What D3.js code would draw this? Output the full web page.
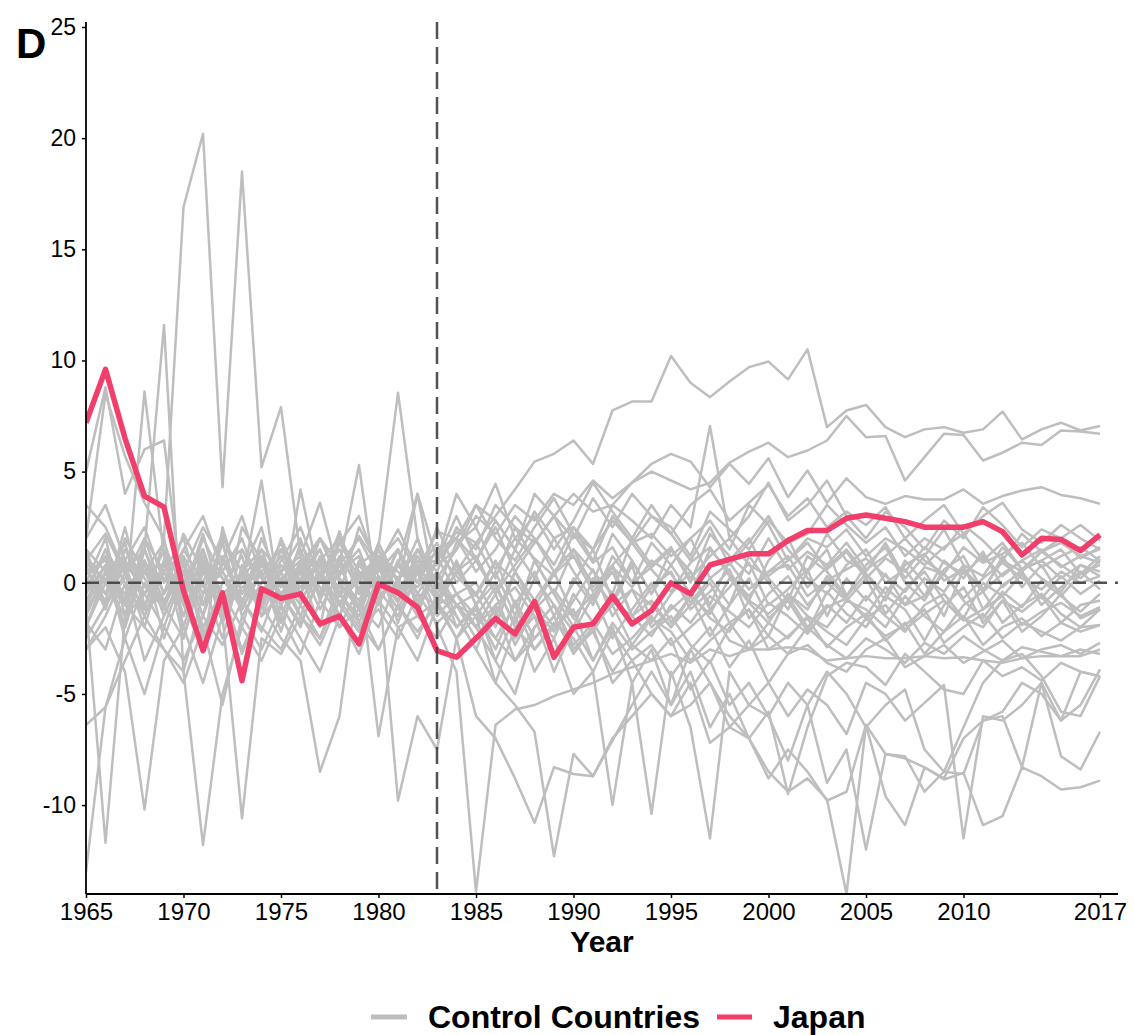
<!DOCTYPE html>
<html><head><meta charset="utf-8">
<script src="https://cdn.jsdelivr.net/npm/d3@7"></script>
<style>body{margin:0;background:#fff;} text{font-family:"Liberation Sans",Arial,sans-serif;}</style>
</head><body>
<svg id="chart" width="1134" height="1035"></svg>
<script>
const years = d3.range(1965, 2018);
const xTickValues = [1965,1970,1975,1980,1985,1990,1995,2000,2005,2010,2017];
const yTickValues = [-10,-5,0,5,10,15,20,25];
const treatmentYear = 1983;

const japan = [7.2, 9.6, 6.5, 3.9, 3.4, -0.35, -3.05, -0.45, -4.4, -0.27,
 -0.7, -0.5, -1.85, -1.5, -2.75, -0.05, -0.45, -1.1, -3.05, -3.35,
 -2.5, -1.6, -2.3, -0.85, -3.35, -2.0, -1.85, -0.6, -1.85, -1.25,
 0.0, -0.5, 0.8, 1.05, 1.3, 1.3, 1.9, 2.35, 2.35, 2.9,
 3.05, 2.9, 2.75, 2.5, 2.5, 2.5, 2.75, 2.3, 1.25, 2.0,
 1.95, 1.45, 2.15];

const g1 = [1.0, 2.2, 0.4, -1.2, 2.0, 16.9, 20.2, 4.3, 18.5, 5.2,
 7.9, 1.2, 3.6, 0.3, 2.1, 0.8, 2.4, 0.6, 1.4, 0.3,
 -0.6, 0.9, 0.1, -1.1, 0.4, 1.2, -0.4, 0.7, -0.2, 1.0,
 0.4, -0.9, 0.2, 0.9, -0.3, 0.5, 0.8, -0.6, 0.1, 0.6,
 1.1, 0.3, -0.4, 0.7, 0.4, -0.7, 0.2, 0.9, 0.2, -0.3,
 0.5, 0.0, 0.3];
const g2 = [-0.5, 1.5, -1.0, 8.6, 1.2, -2.5, 0.8, -1.5, 2.5, 1.0,
 -0.8, 1.8, 0.2, 1.5, -0.5, 1.6, 8.55, 2.0, -0.3, 1.8,
 2.5, 0.6, 2.0, 1.1, 0.3, 2.2, 0.9, 1.6, 0.0, 0.7,
 1.5, 0.2, 1.2, 2.0, 0.8, 0.3, 1.0, 1.8, 0.6, 1.4,
 0.2, 1.1, 0.5, 1.6, 0.9, 0.4, 1.2, 0.3, 1.0, 1.5,
 0.7, 1.2, 0.9];
const g3 = [-1.5, 0.5, -2.0, 1.5, 11.6, -4.0, -0.5, 1.8, -1.2, 0.5,
 -2.2, 0.8, -0.6, 1.2, -1.8, 0.3, -0.9, 1.5, -0.2, -1.0,
 -2.0, -0.5, -2.8, -1.2, -0.3, -1.6, -2.2, -0.8, -1.5, -2.4,
 -1.0, -1.8, -0.6, -1.3, -2.0, -0.9, -1.5, -2.3, -1.1, -0.7,
 -1.6, -1.0, -2.1, -1.4, -0.8, -1.7, -1.2, -0.6, -1.9, -1.3,
 -0.9, -1.5, -1.1];
const g4 = [5.0, 8.8, 4.0, 6.0, 6.4, -1.0, -3.0, 2.5, -0.5, 1.5,
 0.5, 2.0, -0.8, 1.0, 0.0, 1.2, -0.5, 0.8, 1.0, 2.0,
 1.0, 2.8, 1.5, 3.2, 2.0, 2.5, 1.0, 3.0, 1.8, 2.2,
 1.2, 2.0, 2.8, 1.5, 3.5, 2.6, 1.0, 2.0, 1.6, 2.4,
 1.2, 2.0, 1.5, 0.8, 1.6, 2.2, 1.0, 1.8, 0.6, 1.4,
 2.0, 1.1, 1.6];
const g5 = [2.0, 8.5, 5.7, 3.6, 2.0, -2.0, 1.0, -1.5, 0.5, -1.0,
 1.5, -0.5, 2.0, 0.8, -1.2, 1.0, -0.3, 0.5, 2.3, 2.0,
 3.5, 2.8, 1.5, 4.0, 3.0, 2.0, 3.8, 2.5, 4.0, 3.0,
 2.2, 3.5, 4.2, 2.8, 3.6, 4.4, 3.0, 3.8, 2.5, 3.2,
 2.6, 3.4, 2.0, 2.8, 3.5, 2.2, 3.0, 3.6, 2.4, 1.8,
 2.6, 2.0, 1.5];
const g6 = [-13.0, -5.6, -2.5, -5.0, -2.0, -3.5, -1.5, -2.8, -0.8, -2.0,
 -3.0, -1.0, -2.5, -0.5, -1.8, -3.0, -1.0, -2.2, -0.9, -2.0,
 -1.2, -3.0, -0.8, -2.5, -1.5, -3.2, -2.0, -1.0, -2.8, -1.6,
 -2.2, -3.5, -2.6, -1.8, -3.0, -2.4, -3.2, -2.0, -2.8, -3.4,
 -2.5, -3.0, -3.6, -2.7, -3.2, -2.4, -3.0, -3.5, -2.9, -3.1,
 -3.3, -3.0, -3.2];
const g7 = [-1.0, -11.7, -1.5, 0.5, -1.0, -2.5, 0.5, -0.5, -2.0, 1.0,
 -0.5, -1.8, 0.2, -1.0, 0.8, -0.3, -1.5, 0.5, -0.8, -2.5,
 -1.5, -4.5, -2.0, -3.0, -1.8, -2.5, -4.0, -2.2, -3.5, -2.8,
 -4.2, -3.0, -2.0, -3.8, -2.6, -4.5, -3.2, -2.8, -3.6, -4.0,
 -3.0, -2.5, -3.8, -3.3, -2.8, -3.6, -3.1, -2.6, -3.4, -3.0,
 -2.8, -3.2, -2.7];
const g8 = [-3.0, -2.0, -4.0, -10.2, -3.5, -2.0, -4.5, -1.5, -10.6, -2.5,
 -3.2, -1.5, -2.8, -0.8, -2.0, -1.2, -2.5, -0.5, -1.8, -1.0,
 -0.5, -2.0, 0.5, -1.2, -2.2, -0.8, 0.6, -1.5, -0.3, -1.0,
 -2.0, -0.6, -1.4, 0.2, -0.9, -1.8, -0.5, -1.2, 0.3, -0.7,
 -1.5, -0.2, -1.0, -0.6, 0.4, -0.8, -1.6, -0.4, -1.1, 0.1,
 -0.6, -1.3, -0.5];
const g9 = [0.5, 1.0, -1.0, -2.0, -3.0, -4.0, -11.8, -5.0, -2.0, -3.5,
 -1.5, -3.2, -0.8, -2.0, -1.2, -3.0, -1.0, -2.5, -0.5, -1.5,
 -3.0, -1.0, -2.5, -1.5, -4.0, -2.0, -3.5, -1.8, -3.0, -2.2,
 -1.5, -2.8, -3.6, -2.0, -1.2, -3.0, -2.4, -1.6, -2.9, -2.0,
 -1.4, -2.6, -1.8, -3.2, -2.2, -1.5, -2.8, -2.0, -1.6, -2.4,
 -1.8, -2.2, -1.9];
const g10 = [1.5, 0.5, -0.5, 1.0, -1.5, 0.5, -2.0, -0.5, -3.0, -1.0,
 -2.5, -3.5, -8.5, -6.0, 0.5, -6.9, -2.0, -1.5, -0.8, 0.5,
 1.2, -0.5, 0.8, 2.0, 0.5, 1.5, -0.2, 0.8, 1.8, 0.6,
 -0.4, 0.9, 1.6, 0.3, -0.6, 0.5, 1.2, -0.2, 0.7, 1.5,
 0.4, -0.5, 0.8, 1.3, 0.1, 0.6, -0.3, 1.0, 0.5, 1.4,
 0.8, 0.2, 1.0];
const g11 = [0.0, -1.0, 0.8, -1.5, 0.5, -0.8, 1.2, -0.5, 0.3, -1.2,
 0.8, -0.2, 1.0, -0.6, 0.5, 0.2, -9.8, -6.0, -7.5, -2.5,
 -1.0, -3.5, -5.0, -2.0, -1.0, -3.0, -2.0, -4.5, -3.5, -5.0,
 -6.0, -5.5, -4.5, -6.5, -7.0, -5.8, -9.5, -6.5, -4.2, -3.6,
 -3.8, -4.6, -3.2, -4.0, -4.8, -5.0, -3.5, -4.2, -3.8, -4.4,
 -3.6, -4.0, -4.2];
const g12 = [-2.5, -1.0, 1.0, -0.5, -2.0, 0.5, -1.5, 1.0, -0.8, -2.2,
 0.2, -1.0, 1.2, -0.5, -1.5, 0.8, -0.8, 0.5, -2.0, -4.0,
 -13.9, -6.4, -5.7, -5.5, -5.1, -4.8, -4.5, -4.1, -3.8, -3.5,
 -3.2, -3.6, -3.0, -3.3, -3.0, -3.0, -2.9, -3.0, -3.5, -3.4,
 -3.3, -3.4, -3.4, -3.3, -3.4, -3.35, -3.5, -3.6, -3.4, -3.3,
 -3.3, -3.3, -3.0];
const g13 = [-2.0, 0.5, -1.0, 1.5, -0.5, 1.0, -2.5, 0.0, 1.2, -1.5,
 -0.5, 0.8, -1.2, 0.5, 1.5, -0.8, 0.8, -0.5, -1.0, -2.5,
 -6.0, -7.0, -8.8, -10.8, -8.3, -8.6, -8.7, -7.0, -6.0, -5.0,
 -6.0, -4.5, -7.2, -6.5, -5.5, -6.0, -4.5, -5.5, -4.0, -5.0,
 -6.5, -5.5, -4.8, -7.5, -8.5, -6.5, -4.5, -3.5, -3.2, -4.2,
 -5.8, -6.0, -4.2];
const g14 = [1.0, -0.5, 2.0, 0.5, -1.0, 1.5, 0.0, 2.2, -0.5, 1.0,
 -1.5, 0.5, -0.5, 1.8, 0.2, -1.0, 1.0, -0.8, 0.5, -1.5,
 -3.0, -4.5, -5.5, -6.7, -12.3, -7.7, -8.7, -7.1, -5.5, -4.0,
 -5.5, -3.0, -4.5, -6.0, -7.0, -8.8, -7.5, -8.5, -9.8, -9.4,
 -6.4, -7.7, -7.9, -8.3, -8.85, -8.55, -10.9, -10.5, -8.3, -8.7,
 -9.3, -9.2, -8.9];
const g15 = [-0.5, 1.5, 0.0, -1.5, 1.0, -0.5, 0.8, -1.8, 1.5, 0.2,
 -1.0, 1.0, -0.2, -1.5, 0.8, 1.5, -0.5, 1.2, 0.0, -1.0,
 -2.0, -3.5, -1.5, -4.0, -2.5, -5.0, -4.0, -10.0, -4.5, -10.4,
 -4.0, -6.5, -11.5, -4.0, -5.5, -4.5, -6.0, -4.8, -5.5, -6.8,
 -4.5, -5.0, -6.2, -5.4, -4.6, -11.5, -6.0, -6.2, -5.5, -4.5,
 -6.2, -4.0, -4.2];
const g16 = [0.8, -1.2, 1.5, -0.2, 0.5, -1.5, 1.5, -1.0, 0.3, 1.2,
 -0.8, 0.5, 1.5, -1.0, 0.2, 1.0, -0.5, 0.8, -1.5, -0.5,
 -1.5, -2.5, -1.0, -3.0, -2.0, -1.2, -3.5, -2.0, -4.5, -3.0,
 -5.5, -4.0, -6.5, -5.0, -7.0, -8.5, -9.4, -8.8, -9.75, -14.0,
 -6.4, -9.6, -10.9, -8.3, -8.8, -7.0, -6.2, -6.0, -8.3, -4.5,
 -7.8, -8.4, -6.7];
const g17 = [-1.2, 0.2, -2.0, 1.0, -0.8, 0.5, -1.0, 1.8, -1.5, 0.0,
 1.2, -0.8, 0.5, -1.5, 1.0, -0.3, 1.5, -1.2, 0.5, -2.0,
 -1.0, -2.5, -3.5, -2.5, -1.5, -3.0, -2.2, -4.0, -2.8, -3.5,
 -2.5, -4.8, -3.5, -5.5, -4.5, -6.0, -8.0, -5.5, -9.0, -7.5,
 -12.0, -7.7, -7.8, -9.4, -8.5, -8.6, -6.2, -5.8, -4.5, -5.0,
 -6.2, -5.5, -3.9];
const g18 = [2.0, 3.5, 1.0, 2.5, 0.0, 1.5, 3.0, 0.5, 2.0, -0.5,
 1.0, 2.5, 0.2, 1.8, 3.0, 0.5, 1.5, -0.5, 1.0, 4.0,
 2.5, 4.45, 2.0, 3.0, 1.5, 2.8, 4.5, 3.2, 2.0, 3.5,
 2.2, 1.0, 2.5, 0.8, 1.8, 3.0, 1.5, 0.5, 2.2, 1.0,
 0.5, 1.8, 0.2, 1.2, 2.4, 0.8, 0.3, 1.6, 0.6, 1.0,
 1.5, 0.4, 0.8];
const g19 = [0.5, -0.5, 1.5, 0.2, -1.0, 0.8, -0.2, 1.2, -0.8, 0.5,
 1.5, 0.0, 1.0, -0.5, 0.3, 1.2, 0.5, -0.2, 1.0, 2.3,
 1.8, 3.0, 4.2, 5.45, 5.8, 6.4, 5.35, 7.75, 8.15, 8.15,
 10.2, 9.0, 8.35, 9.05, 9.7, 9.95, 9.15, 10.5, 7.0, 7.75,
 8.0, 7.0, 6.55, 6.9, 7.0, 6.75, 6.9, 7.7, 6.45, 6.9,
 7.2, 6.85, 7.05];
const g20 = [-0.2, 1.2, -0.8, 0.5, 1.8, -0.5, 1.0, 0.2, -1.2, 0.8,
 0.0, 1.5, -0.5, 0.8, 2.0, 0.3, -0.8, 1.0, 0.2, 1.5,
 3.0, 2.2, 3.5, 2.8, 4.0, 3.5, 4.6, 3.8, 4.5, 5.0,
 4.6, 4.2, 4.5, 5.4, 5.9, 6.3, 5.65, 5.95, 6.4, 7.5,
 6.55, 6.6, 4.6, 5.65, 6.7, 6.65, 5.5, 5.85, 6.3, 6.2,
 6.85, 6.8, 6.7];
const g21 = [1.2, 0.0, -1.5, 2.0, 0.5, -0.5, 2.2, -1.0, 0.5, 1.5,
 -0.8, 0.8, 2.0, 0.0, -1.2, 1.0, 0.2, 1.5, 0.5, 2.5,
 1.5, 3.5, 2.5, 1.8, 3.0, 4.0, 3.2, 3.5, 4.5, 5.35,
 5.8, 5.45, 4.3, 5.35, 4.45, 5.6, 3.85, 5.05, 3.6, 4.7,
 3.85, 3.55, 3.9, 3.75, 3.75, 4.2, 3.55, 3.9, 4.15, 4.3,
 3.95, 3.8, 3.55];
const g22 = [-1.0, 0.5, 1.0, -0.5, 0.5, 2.0, -1.0, 0.8, 1.5, -0.3,
 0.2, 1.0, -0.5, 0.5, 1.2, -0.8, 0.8, 0.0, 1.5, 2.0,
 0.5, 1.5, 3.0, 2.0, 0.8, 2.5, 1.5, 3.5, 2.8, 2.0,
 3.5, 2.5, 7.05, 2.0, 3.0, 4.5, 2.8, 3.5, 4.6, 3.0,
 2.0, 3.2, 2.5, 1.5, 2.8, 2.0, 3.4, 2.6, 1.6, 2.4,
 2.0, 2.6, 1.9];
const g23 = [3.5, 2.5, 0.5, 1.5, -1.0, 0.5, 2.5, 1.0, 3.0, 0.2,
 1.8, -0.5, 1.0, 2.0, 0.5, -0.5, 1.5, 0.0, 2.5, 0.5,
 -0.5, 1.0, -1.0, 0.5, -1.5, 0.0, 1.5, -0.8, 1.0, -0.5,
 0.8, 2.0, 0.2, -1.0, 1.2, 0.0, -1.2, 0.5, 1.5, -0.6,
 0.4, -0.8, 1.0, 0.0, -1.5, 0.6, -0.4, 1.2, -0.2, 0.8,
 -0.6, 0.4, 1.2];
const g24 = [-3.0, -1.5, 0.5, -2.0, 1.0, -1.0, 0.0, -2.5, 0.8, -1.5,
 -0.5, -2.0, 0.5, -1.0, -2.2, 0.2, -1.2, 0.8, -0.5, 0.8,
 -1.0, 0.0, -2.0, -0.8, 0.5, -1.5, -0.5, -2.5, -1.2, 0.0,
 -1.8, -0.6, -2.4, -1.0, 0.2, -1.6, -0.8, -2.2, -0.4, -1.4,
 -2.0, -0.6, -1.2, -2.6, -1.0, -0.2, -1.8, -0.8, -2.2, -1.5,
 -0.5, -1.6, -1.2];
const g25 = [-1.8, -3.0, 0.0, -3.5, -1.5, 0.5, -2.0, -0.5, -3.2, -1.0,
 0.5, -1.5, -2.5, 0.0, -1.0, -2.0, 0.2, -1.5, -2.5, -1.0,
 -2.5, -1.2, -3.5, -2.0, -1.0, -2.8, -1.8, -3.2, -2.5, -1.5,
 -2.8, -2.0, -1.2, -2.6, -3.0, -1.8, -2.5, -1.5, -2.2, -2.8,
 -1.6, -2.4, -1.9, -1.2, -2.7, -2.0, -1.4, -2.5, -1.8, -2.2,
 -2.6, -2.0, -1.9];
const g26 = [0.2, -0.8, 2.5, -1.0, 0.8, -0.2, 1.5, -1.8, 0.5, 2.5,
 -1.0, 0.5, -2.0, 2.3, -0.5, 0.8, -1.8, 0.5, 1.8, 0.0,
 1.0, -0.5, 1.5, 0.2, 2.0, 0.5, -0.8, 1.2, 0.0, 1.8,
 0.8, -0.5, 1.5, 0.5, -0.8, 1.0, 2.0, 0.2, -0.5, 0.8,
 1.5, 0.0, 0.6, -0.6, 1.0, 0.2, 1.4, -0.2, 0.6, 1.0,
 0.2, 0.8, 0.5];
const g27 = [-0.8, 0.8, -2.5, 0.0, -1.2, 1.2, -0.5, 0.5, -1.0, 2.0,
 0.0, -1.5, 0.8, -0.2, -1.0, 1.5, 0.0, -1.5, 1.2, -0.5,
 0.0, -1.5, 0.5, -0.8, -2.0, 0.2, -1.0, 0.8, -1.5, -0.2,
 0.5, -1.2, -0.4, 0.6, -1.6, -0.5, 0.3, -1.0, 0.0, -0.8,
 0.2, -1.4, -0.3, 0.5, -0.8, -1.6, 0.0, -0.6, 0.4, -1.0,
 -0.2, 0.5, -0.3];
const g28 = [-2.0, 0.0, -1.0, 1.0, -2.5, 0.0, 1.5, -1.0, 0.5, -1.5,
 0.5, 1.2, -0.5, 0.8, 5.3, -1.0, 0.8, 4.0, -0.8, 1.0,
 -1.0, 0.5, -1.5, 1.0, -0.5, -2.0, 0.2, -1.0, 0.8, -1.8,
 -0.5, 0.5, -1.2, -0.2, 0.9, -1.0, -0.3, 0.6, -1.5, 0.2,
 -0.8, 0.4, -1.0, 0.2, -0.4, 0.8, -1.2, -0.1, 0.5, -0.7,
 0.3, -0.5, 0.1];
const g29 = [0.0, 2.0, -1.5, -0.5, 1.5, -1.5, 0.5, -0.8, 0.0, 4.6,
 -1.2, 4.2, 0.0, 2.3, -0.5, 1.8, 0.0, 2.0, -1.0, 0.5,
 1.8, 0.2, 2.5, 1.0, -0.5, 1.5, 0.5, -0.5, 2.0, 0.8,
 1.6, 0.0, 2.2, 1.2, 0.4, 2.0, 0.6, 1.4, 0.8, 1.8,
 0.6, 1.2, 2.0, 1.0, 0.4, 1.6, 0.9, 1.3, 1.8, 0.7,
 1.2, 1.6, 1.0];
const g30 = [-6.4, -5.6, -3.5, -1.5, -3.0, -4.5, -2.0, -5.5, -1.5, -3.0,
 -1.0, -2.5, -4.0, -1.5, -3.2, -0.8, -2.0, -3.5, -1.0, -0.5,
 -2.0, -1.0, -0.2, -1.5, -2.5, -0.5, -1.8, -1.0, -0.3, -2.0,
 -1.2, -0.4, -1.6, -2.2, -0.8, -1.4, -0.6, -2.0, -1.0, -1.8,
 -0.6, -1.5, -2.2, -1.0, -0.5, -1.6, -2.0, -0.8, -1.3, -0.6,
 -1.8, -1.0, -0.8];
const g31 = [1.5, -1.0, 0.2, 2.0, -0.5, 1.0, -1.5, 2.0, 0.5, -0.8,
 2.0, 0.0, 1.5, -0.5, 2.5, 0.8, -0.2, 4.0, 1.0, 3.0,
 1.0, 2.5, 0.5, 1.8, 3.0, 1.2, 0.0, 2.2, 1.0, -0.5,
 1.5, 0.5, -1.0, 1.0, 2.0, 0.2, -0.8, 1.2, 0.5, -0.6,
 0.8, 1.6, 0.0, -0.8, 0.6, 1.2, -0.4, 0.4, 1.0, 0.2,
 -0.4, 0.8, 0.3];
const g32 = [-0.5, 0.8, -2.0, 0.8, 0.2, -0.8, 2.0, 0.2, -0.5, 1.2,
 -0.2, 0.5, 2.0, 0.2, -0.8, 1.0, 2.0, 0.5, 0.8, 1.5,
 3.5, 2.0, 1.0, 2.5, 3.8, 2.2, 1.5, 2.8, 1.8, 3.0,
 2.5, 1.2, 3.2, 2.4, 1.5, 2.8, 1.8, 2.2, 3.5, 2.6,
 1.8, 2.5, 1.2, 2.0, 1.5, 2.6, 1.9, 1.0, 2.2, 1.4,
 1.8, 1.2, 1.5];
const g33 = [1.0, 0.0, 1.8, -1.2, -0.5, 2.2, 0.5, -1.2, -0.2, 0.5,
 -1.8, 0.2, 0.8, -2.0, -0.2, -1.0, 1.0, -1.0, 0.5, -1.0,
 -1.5, -0.2, -1.8, 0.2, -1.0, -2.2, -0.6, 0.5, -1.5, -0.8,
 -2.0, -1.0, 0.0, -1.8, -1.2, -2.4, -0.5, -1.5, -2.0, -0.8,
 -1.2, -2.0, -0.6, -1.5, -2.2, -1.0, -0.4, -1.8, -1.0, -0.5,
 -1.4, -2.0, -1.2];

const controls = [g1,g2,g3,g4,g5,g6,g7,g8,g9,g10,g11,g12,g13,g14,g15,g16,g17,g18,g19,g20,g21,g22,g23,g24,g25,g26,g27,g28,g29,g30,g31,g32,g33];

const svg = d3.select("#chart");
const x = d3.scaleLinear().domain([1965, 2017]).range([86, 1100]);
const y = d3.scaleLinear().domain([-14, 25]).range([894, 27]);
const xEnd = 1118;

const line = d3.line().x((d,i)=>x(years[i])).y(d=>y(d));

svg.append("clipPath").attr("id","clip").append("rect")
  .attr("x",86).attr("y",20).attr("width",xEnd-86).attr("height",894-20);

const plot = svg.append("g").attr("clip-path","url(#clip)");
plot.selectAll("path.ctrl").data(controls).enter().append("path")
  .attr("class","ctrl").attr("d", line)
  .attr("fill","none").attr("stroke","#bebebe").attr("stroke-width",2.5)
  .attr("stroke-linejoin","round");

// reference lines
svg.append("line").attr("x1",86).attr("x2",xEnd).attr("y1",y(0)).attr("y2",y(0))
  .attr("stroke","#404040").attr("stroke-width",2.5).attr("stroke-dasharray","13,8").attr("opacity",0.9);
svg.append("line").attr("x1",x(treatmentYear)).attr("x2",x(treatmentYear)).attr("y1",22).attr("y2",894)
  .attr("stroke","#404040").attr("stroke-width",2.5).attr("stroke-dasharray","17,8").attr("opacity",0.9);

plot.append("path").datum(japan).attr("d", line)
  .attr("fill","none").attr("stroke","#f23e6b").attr("stroke-width",5.5)
  .attr("stroke-linejoin","round");

// axes
const xAxis = svg.append("g").attr("transform","translate(0,894)")
  .call(d3.axisBottom(x).tickValues(xTickValues).tickFormat(d => String(d)).tickSize(4).tickPadding(3));
xAxis.select(".domain").attr("d", `M86,0H${xEnd}`).attr("stroke","#000").attr("stroke-width",1.8);
xAxis.selectAll(".tick line").attr("stroke","#000").attr("stroke-width",1.5);
xAxis.selectAll(".tick text").attr("font-size",24).attr("fill","#000").attr("dy","0.78em");

const yAxis = svg.append("g").attr("transform","translate(86,0)")
  .call(d3.axisLeft(y).tickValues(yTickValues).tickFormat(d => String(d)).tickSize(4).tickPadding(6));
yAxis.select(".domain").attr("d","M0,22V894").attr("stroke","#000").attr("stroke-width",1.8);
yAxis.selectAll(".tick line").attr("stroke","#000").attr("stroke-width",1.5);
yAxis.selectAll(".tick text").attr("font-size",23).attr("fill","#000");

svg.append("text").attr("x",602).attr("y",952).attr("text-anchor","middle")
  .attr("font-size",30).attr("font-weight","bold").text("Year");
svg.append("text").attr("x",16).attr("y",58)
  .attr("font-size",42).attr("font-weight","bold").text("D");

// legend
const legend = svg.append("g").attr("transform","translate(0,1017)");
legend.append("line").attr("x1",371).attr("x2",407).attr("y1",0).attr("y2",0).attr("stroke","#bebebe").attr("stroke-width",5);
legend.append("text").attr("x",428).attr("y",11).attr("font-size",32).attr("font-weight","bold").text("Control Countries");
legend.append("line").attr("x1",717).attr("x2",752).attr("y1",0).attr("y2",0).attr("stroke","#f23e6b").attr("stroke-width",5);
legend.append("text").attr("x",773).attr("y",11).attr("font-size",32).attr("font-weight","bold").text("Japan");
</script>
</body></html>
